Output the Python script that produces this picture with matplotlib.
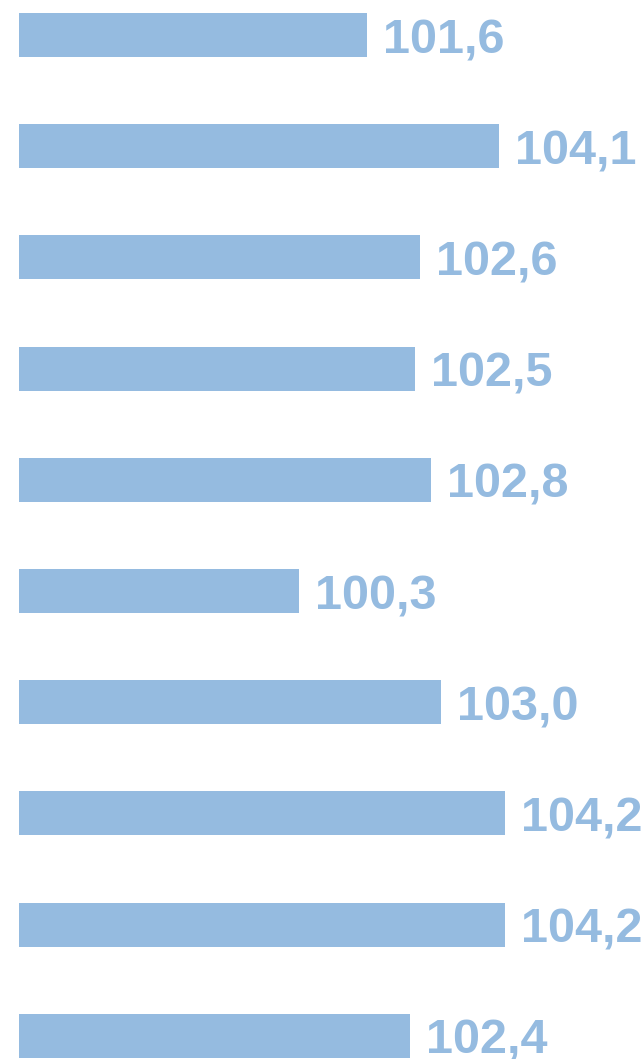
import matplotlib
matplotlib.use("Agg")
import matplotlib.pyplot as plt

values = [101.6, 104.1, 102.6, 102.5, 102.8, 100.3, 103.0, 104.2, 104.2, 102.4]
labels = ["101,6", "104,1", "102,6", "102,5", "102,8", "100,3", "103,0", "104,2", "104,2", "102,4"]

base = 95.0
color = "#95BBE0"

fig = plt.figure(figsize=(6.43, 10.59), dpi=100)
ax = fig.add_axes([0, 0, 1, 1])

pos = list(range(len(values)))
ax.barh(pos, [v - base for v in values], left=base, height=0.396, color=color)

for p, v, lab in zip(pos, values, labels):
    ax.annotate(lab, (v, p), xytext=(11.5, -13), textcoords="offset points",
                va="baseline", ha="left", fontsize=35, fontweight="bold",
                color=color, family="Liberation Sans")

xmin = base - 19 / 52.8
ax.set_xlim(xmin, xmin + 643 / 52.8)
ax.set_ylim((1059 - 35) / 111.2, -35 / 111.2)
ax.axis("off")

fig.savefig("out.png", dpi=100)
